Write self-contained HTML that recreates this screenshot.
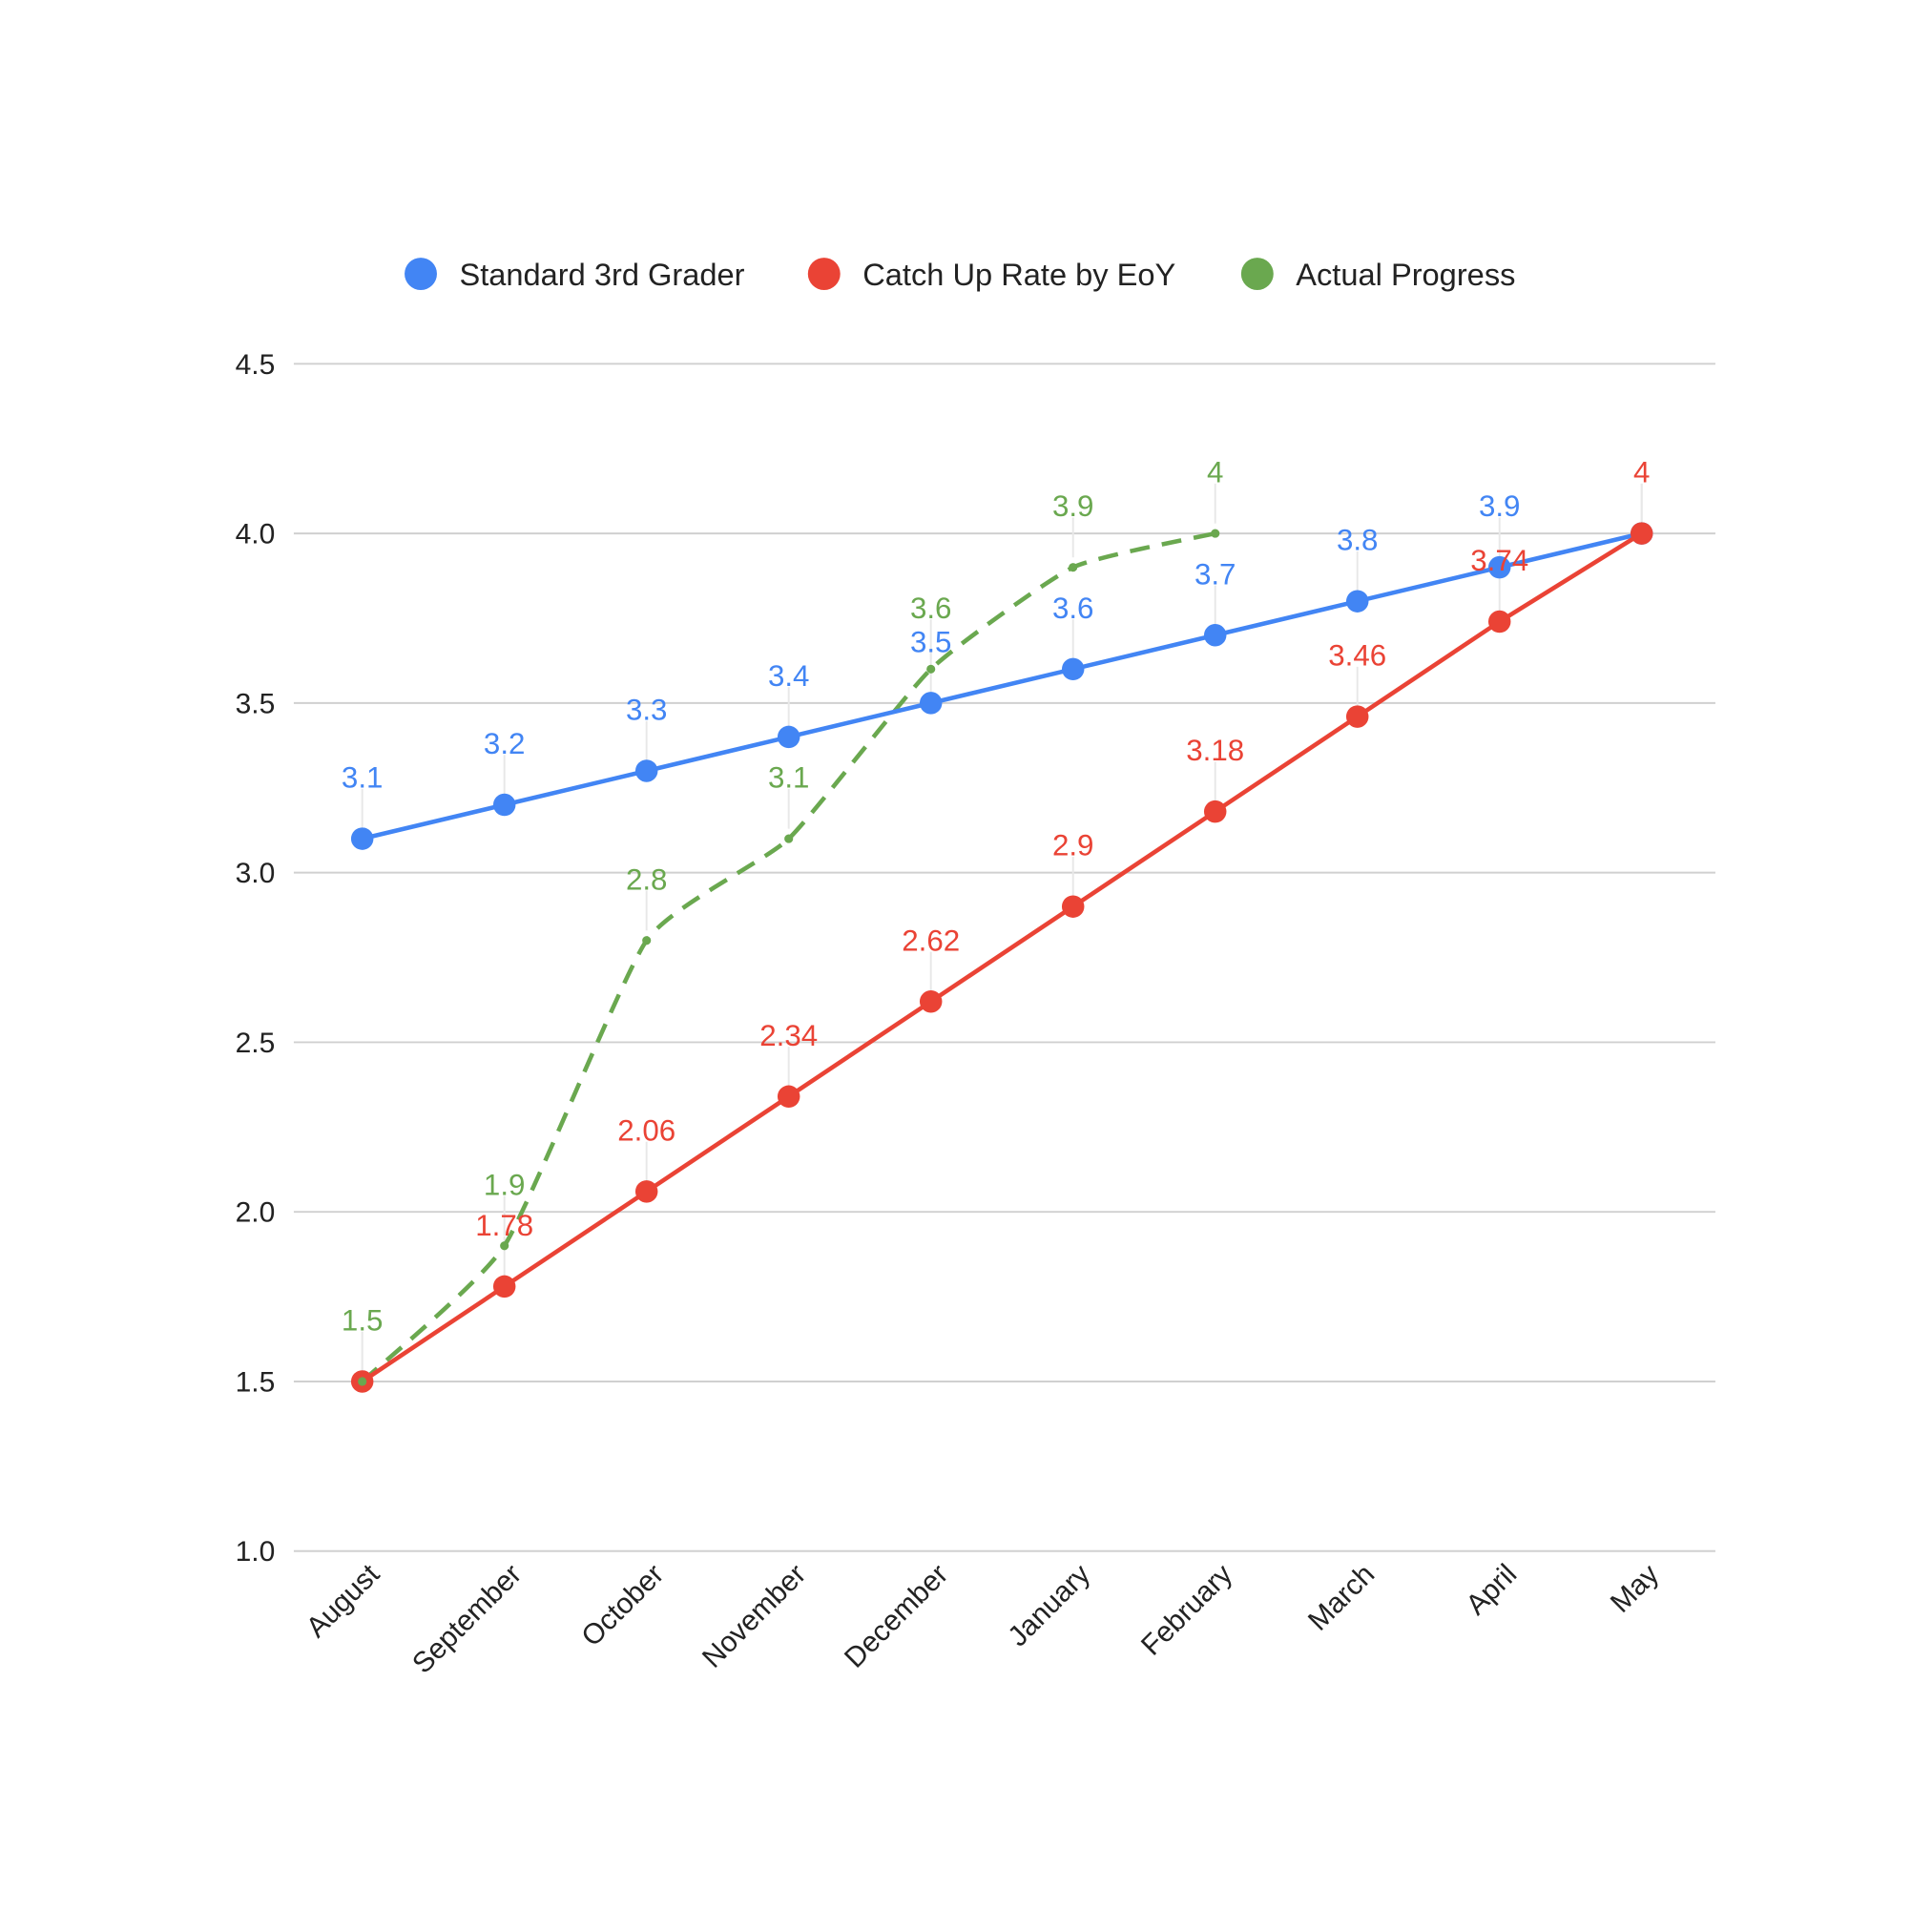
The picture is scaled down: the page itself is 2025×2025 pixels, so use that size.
<!DOCTYPE html>
<html><head><meta charset="utf-8"><style>html,body{margin:0;padding:0;background:#fff}svg{display:block}</style></head>
<body>
<svg id="s" width="2025" height="2025" viewBox="0 0 1552 1552" xmlns="http://www.w3.org/2000/svg" font-family="Liberation Sans, sans-serif">
<rect width="1552" height="1552" fill="#fff"/>
<g id="g"></g>
</svg>
<script>
const NS="http://www.w3.org/2000/svg",g=document.getElementById('g');
function el(t,a,txt){const e=document.createElementNS(NS,t);for(const k in a)e.setAttribute(k,a[k]);if(txt!==undefined)e.textContent=txt;g.appendChild(e);return e;}
const Y=v=>1246-(v-1)*272.5, X=i=>291+i*114.2;
[1,1.5,2,2.5,3,3.5,4,4.5].forEach(v=>{el('line',{x1:236,x2:1378,y1:Y(v),y2:Y(v),stroke:'#d0d0d0','stroke-width':1.5});
el('text',{x:221,y:Y(v)+8,'text-anchor':'end','font-size':23,fill:'#222'},v.toFixed(1));});
const months=["August","September","October","November","December","January","February","March","April","May"];
months.forEach((m,i)=>el('text',{x:X(i)+15,y:1266,'text-anchor':'end','font-size':23,fill:'#222',transform:`rotate(-45 ${X(i)+15} 1266)`},m));
[[338,"#4285f4","Standard 3rd Grader"],[662,"#ea4335","Catch Up Rate by EoY"],[1010,"#6aa84f","Actual Progress"]].forEach(([x,c,t])=>{
el('circle',{cx:x,cy:220,r:13,fill:c});el('text',{x:x+31,y:229,'font-size':25,fill:'#222'},t);});
const blue=[3.1,3.2,3.3,3.4,3.5,3.6,3.7,3.8,3.9,4],red=[1.5,1.78,2.06,2.34,2.62,2.9,3.18,3.46,3.74,4],green=[1.5,1.9,2.8,3.1,3.6,3.9,4];
function leaders(arr){arr.forEach((v,i)=>el('line',{x1:X(i),x2:X(i),y1:Y(v)-8,y2:Y(v)-40,stroke:'#e8e8e8','stroke-width':1.5}));}
leaders(green);leaders(blue);leaders(red);
let gp=green.map((v,i)=>[X(i),Y(v)]);let d=`M${gp[0]}`;
for(let i=0;i<gp.length-1;i++){const p0=gp[Math.max(0,i-1)],p1=gp[i],p2=gp[i+1],p3=gp[Math.min(gp.length-1,i+2)];
const t=0.25/3;d+=` C${p1[0]+(p2[0]-p0[0])*t},${p1[1]+(p2[1]-p0[1])*t} ${p2[0]-(p3[0]-p1[0])*t},${p2[1]-(p3[1]-p1[1])*t} ${p2[0]},${p2[1]}`;}
el('path',{d,fill:'none',stroke:'#6aa84f','stroke-width':3.5,'stroke-dasharray':'16 10'});
function series(arr,c){el('polyline',{points:arr.map((v,i)=>X(i)+','+Y(v)).join(' '),fill:'none',stroke:c,'stroke-width':3.5});
arr.forEach((v,i)=>el('circle',{cx:X(i),cy:Y(v),r:9,fill:c}));}
series(blue,'#4285f4');series(red,'#ea4335');
gp.forEach(p=>el('circle',{cx:p[0],cy:p[1],r:3.5,fill:'#6aa84f'}));
function labels(arr,c,skip){arr.forEach((v,i)=>{if(skip.includes(i))return;el('text',{x:X(i),y:Y(v)-41,'text-anchor':'middle','font-size':24,fill:c},String(v));});}
labels(green,'#6aa84f',[]);labels(blue,'#4285f4',[9]);labels(red,'#ea4335',[0]);
</script>
</body></html>
